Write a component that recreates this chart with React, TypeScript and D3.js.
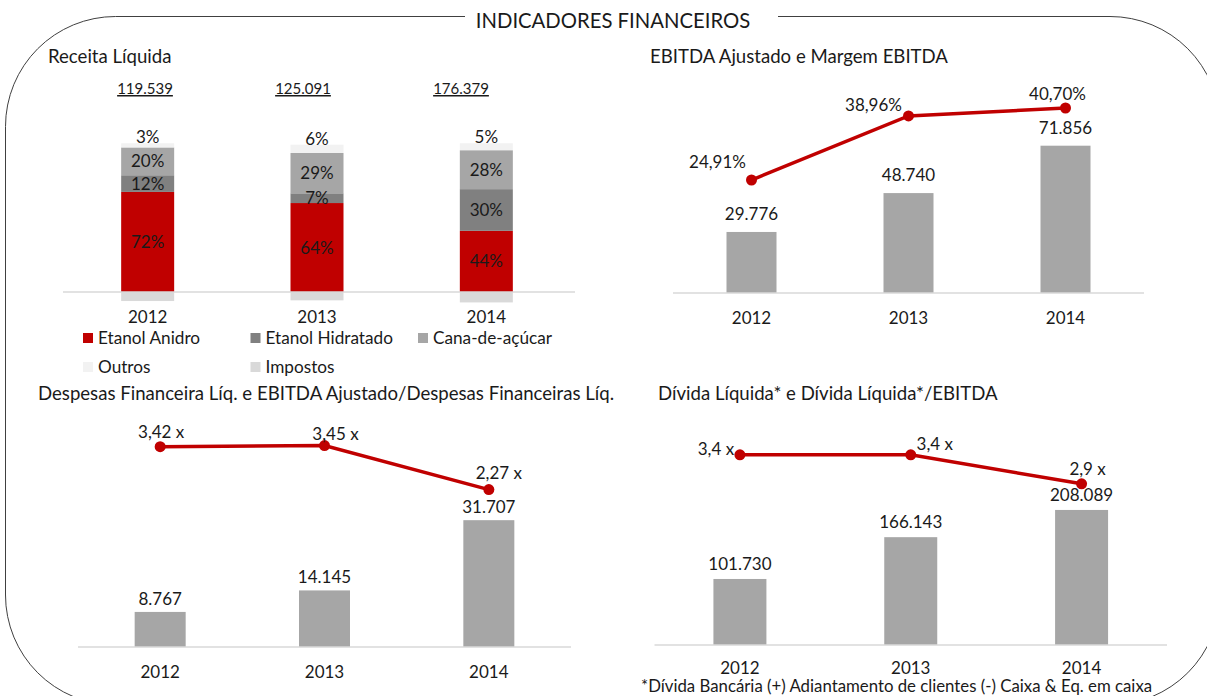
import React from 'react';
import * as d3 from 'd3';

// dados (R$ mil)
const years = ['2012', '2013', '2014'];
const receitaTotal = [119539, 125091, 176379];
const etanolAnidro = [72, 64, 44];
const etanolHidratado = [12, 7, 30];
const canaDeAcucar = [20, 29, 28];
const outros = [3, 6, 5];
const impostos = [-6.5, -6, -7.5];

const ebitda = [29776, 48740, 71856];
const margemEbitda = [24.91, 38.96, 40.7];

const despesasFinanceiras = [8767, 14145, 31707];
const ebitdaSobreDespesas = [3.42, 3.45, 2.27];

const dividaLiquida = [101730, 166143, 208089];
const dividaSobreEbitda = [3.4, 3.4, 2.9];

const legendLabels = ['Etanol Anidro', 'Etanol Hidratado', 'Cana-de-açúcar', 'Outros', 'Impostos'];

const FONT = "Lato, 'Noto Sans', sans-serif";
const TXT = '#1a1a1a';
const RED = '#c00000';
const GRAY = '#a6a6a6';
const AXIS = '#d9d9d9';
const stackColors = ['#c00000', '#808080', '#a6a6a6', '#f2f2f2', '#d9d9d9'];

const br = d3.formatLocale({ decimal: ',', thousands: '.', grouping: [3], currency: ['R$', ''] });
const fmtMil = br.format(',d');

function ReceitaPanel() {
  const keys = ['anidro', 'hidratado', 'cana', 'outros', 'impostos'];
  const rows = years.map((yr, i) => ({
    year: yr,
    anidro: etanolAnidro[i],
    hidratado: etanolHidratado[i],
    cana: canaDeAcucar[i],
    outros: outros[i],
    impostos: impostos[i],
  }));
  const series = d3.stack<any>().keys(keys).offset(d3.stackOffsetDiverging)(rows);
  const x = d3.scalePoint().domain(years).range([63, 571]).padding(0.5);
  const totalX = d3.scalePoint().domain(years).range([66, 540]).padding(0.5);
  const y = d3.scaleLinear().domain([0, 100]).range([292, 153]);
  const bw = 53;

  return (
    <g>
      <text x={48} y={63} fontSize={18.6} fill={TXT}>Receita Líquida</text>
      {years.map((yr, i) => (
        <text key={yr} x={totalX(yr)} y={94} fontSize={15} textAnchor="middle" fill={TXT} textDecoration="underline">
          {fmtMil(receitaTotal[i])}
        </text>
      ))}
      {series.map((s, si) => (
        <g key={s.key}>
          {s.map((d, i) => (
            <rect key={i} x={x(years[i])! - bw / 2} y={y(d[1])} width={bw} height={Math.abs(y(d[0]) - y(d[1]))} fill={stackColors[si]} />
          ))}
        </g>
      ))}
      <line x1={63} x2={575} y1={292} y2={292} stroke={AXIS} strokeWidth={1.5} />
      {series.slice(0, 4).map((s, si) => (
        <g key={'l' + s.key}>
          {s.map((d, i) => {
            const v = d[1] - d[0];
            const yy = si === 3 ? y(d[1]) : (y(d[0]) + y(d[1])) / 2 + 6;
            return (
              <text key={i} x={x(years[i])} y={yy} fontSize={17} textAnchor="middle" fill={TXT}>
                {Math.round(v) + '%'}
              </text>
            );
          })}
        </g>
      ))}
      {years.map((yr) => (
        <text key={'y' + yr} x={x(yr)} y={323} fontSize={17} textAnchor="middle" fill={TXT}>{yr}</text>
      ))}
      {legendLabels.map((lab, i) => {
        const lx = 83 + (i % 3) * 167.5;
        const ly = 338 + Math.floor(i / 3) * 29;
        return (
          <g key={lab}>
            <rect x={lx} y={ly - 5} width={10} height={10} fill={stackColors[i]} />
            <text x={lx + 15} y={ly + 6} fontSize={17.2} fill={TXT}>{lab}</text>
          </g>
        );
      })}
    </g>
  );
}

type ComboProps = {
  title: string;
  titleX: number;
  titleY: number;
  xRange: [number, number];
  baseline: number;
  barWidth: number;
  bars: number[];
  barDomain: [number, number];
  barRange: [number, number];
  barLabelDy: number;
  line: number[];
  lineDomain: [number, number];
  lineRange: [number, number];
  lineFormat: (v: number) => string;
  labelOffsets: [number, number][];
  yearY: number;
};

function ComboPanel(p: ComboProps) {
  const x = d3.scalePoint().domain(years).range(p.xRange).padding(0.5);
  const yb = d3.scaleLinear().domain(p.barDomain).range(p.barRange);
  const yl = d3.scaleLinear().domain(p.lineDomain).range(p.lineRange);
  const pathGen = d3.line<number>().x((_, i) => x(years[i])!).y((d) => yl(d));

  return (
    <g>
      <text x={p.titleX} y={p.titleY} fontSize={18.6} fill={TXT}>{p.title}</text>
      {p.bars.map((v, i) => (
        <rect key={i} x={x(years[i])! - p.barWidth / 2} y={yb(v)} width={p.barWidth} height={p.baseline - yb(v)} fill={GRAY} />
      ))}
      <line x1={p.xRange[0]} x2={p.xRange[1]} y1={p.baseline} y2={p.baseline} stroke={AXIS} strokeWidth={1.5} />
      {p.bars.map((v, i) => (
        <text key={'b' + i} x={x(years[i])} y={yb(v) - p.barLabelDy} fontSize={17} textAnchor="middle" fill={TXT}>
          {fmtMil(v)}
        </text>
      ))}
      <path d={pathGen(p.line)!} fill="none" stroke={RED} strokeWidth={3.5} />
      {p.line.map((v, i) => (
        <circle key={'c' + i} cx={x(years[i])} cy={yl(v)} r={5.5} fill={RED} />
      ))}
      {p.line.map((v, i) => (
        <text key={'t' + i} x={x(years[i])! + p.labelOffsets[i][0]} y={yl(v) + p.labelOffsets[i][1] + 6} fontSize={17} textAnchor="middle" fill={TXT}>
          {p.lineFormat(v)}
        </text>
      ))}
      {years.map((yr) => (
        <text key={'y' + yr} x={x(yr)} y={p.yearY} fontSize={17} textAnchor="middle" fill={TXT}>{yr}</text>
      ))}
    </g>
  );
}

export default function App() {
  const r = 110;
  const L = 5.5, R = 1220, T = 16.5, B = 705;
  const border = `M 778 ${T} H ${R - r} A ${r} ${r} 0 0 1 ${R} ${T + r} V ${B - r} A ${r} ${r} 0 0 1 ${R - r} ${B} H ${L + r} A ${r} ${r} 0 0 1 ${L} ${B - r} V ${T + r} A ${r} ${r} 0 0 1 ${L + r} ${T} H 465`;
  const pct2 = br.format('.2f');
  const x2 = br.format('.2f');
  const x1 = br.format('.1f');

  return (
    <svg width={1207} height={696} style={{ position: 'absolute', left: 0, top: 0, background: '#fff' }} fontFamily={FONT}>
      <path d={border} fill="none" stroke="#404040" strokeWidth={1} />
      <text x={613} y={28} fontSize={20.3} textAnchor="middle" fill={TXT}>INDICADORES FINANCEIROS</text>
      <ReceitaPanel />
      <ComboPanel
        title="EBITDA Ajustado e Margem EBITDA"
        titleX={650}
        titleY={63}
        xRange={[673, 1144]}
        baseline={293}
        barWidth={50}
        bars={ebitda}
        barDomain={[0, 100000]}
        barRange={[293, 88]}
        barLabelDy={12}
        line={margemEbitda}
        lineDomain={[0, 50]}
        lineRange={[293.6, 65.6]}
        lineFormat={(v) => pct2(v) + '%'}
        labelOffsets={[[-34, -18], [-35, -11], [-8, -14]]}
        yearY={324}
      />
      <ComboPanel
        title="Despesas Financeira Líq. e EBITDA Ajustado/Despesas Financeiras Líq."
        titleX={38}
        titleY={400}
        xRange={[78, 571]}
        baseline={647}
        barWidth={51}
        bars={despesasFinanceiras}
        barDomain={[0, 40000]}
        barRange={[647, 487]}
        barLabelDy={7}
        line={ebitdaSobreDespesas}
        lineDomain={[-2, 4]}
        lineRange={[649, 425]}
        lineFormat={(v) => x2(v) + ' x'}
        labelOffsets={[[1, -15], [11, -12], [10, -17]]}
        yearY={678}
      />
      <ComboPanel
        title="Dívida Líquida* e Dívida Líquida*/EBITDA"
        titleX={658}
        titleY={400}
        xRange={[654.5, 1167]}
        baseline={645}
        barWidth={53}
        bars={dividaLiquida}
        barDomain={[0, 250000]}
        barRange={[645, 482.75]}
        barLabelDy={9}
        line={dividaSobreEbitda}
        lineDomain={[0, 4]}
        lineRange={[652, 420]}
        lineFormat={(v) => x1(v) + ' x'}
        labelOffsets={[[-24, -6], [24, -11], [6, -15]]}
        yearY={674}
      />
      <text x={641} y={692} fontSize={16.8} fill={TXT}>*Dívida Bancária (+) Adiantamento de clientes (-) Caixa &amp; Eq. em caixa</text>
    </svg>
  );
}
